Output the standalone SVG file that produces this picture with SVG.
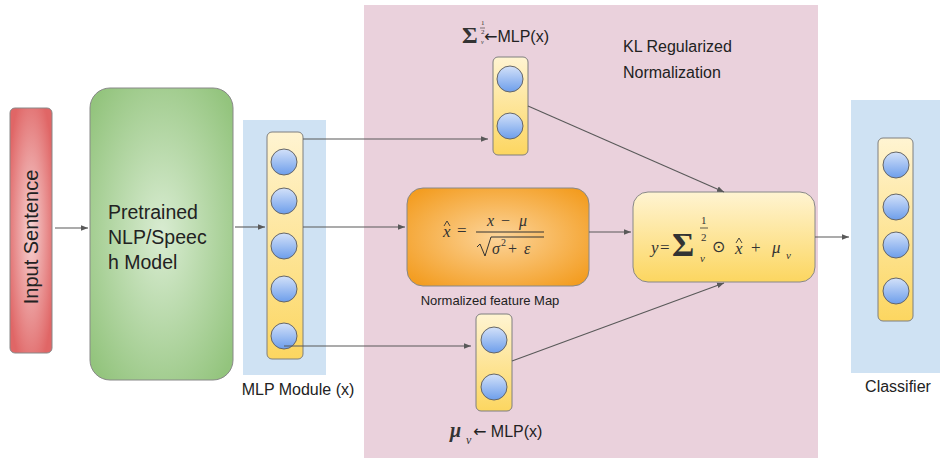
<svg xmlns="http://www.w3.org/2000/svg" width="940" height="458" viewBox="0 0 940 458">
<defs>
<radialGradient id="gRed" cx="50%" cy="50%" r="60%"><stop offset="0" stop-color="#f6d3d3"/><stop offset="1" stop-color="#e06666"/></radialGradient>
<radialGradient id="gGreen" cx="50%" cy="50%" r="65%"><stop offset="0" stop-color="#d9ecd2"/><stop offset="1" stop-color="#93c47d"/></radialGradient>
<radialGradient id="gOrange" cx="50%" cy="50%" r="65%"><stop offset="0" stop-color="#fcd49a"/><stop offset="1" stop-color="#f39c1f"/></radialGradient>
<linearGradient id="gYel" x1="0" y1="0" x2="0" y2="1"><stop offset="0" stop-color="#fff4d2"/><stop offset="1" stop-color="#fcd660"/></linearGradient>
<linearGradient id="gBlue" x1="0" y1="0" x2="0" y2="1"><stop offset="0" stop-color="#d3e1f9"/><stop offset="1" stop-color="#6d9eeb"/></linearGradient>
<marker id="ah" viewBox="0 0 10 10" refX="10" refY="5" markerWidth="7" markerHeight="7" orient="auto" markerUnits="userSpaceOnUse"><path d="M0,1 L10,5 L0,9 z" fill="#595959"/></marker>
<style>
.sans{font-family:"Liberation Sans",Arial,sans-serif;fill:#222}
.arr{font-family:"DejaVu Sans",sans-serif}
.math{font-family:"Liberation Serif","Times New Roman",serif;font-style:italic;fill:#333}
.mathn{font-family:"Liberation Serif","Times New Roman",serif;fill:#333}
.col{fill:url(#gYel);stroke:#7f7f7f;stroke-width:1}
.neu{fill:url(#gBlue);stroke:#666;stroke-width:1}
.bg{fill:#cfe2f3}
.hat{fill:none;stroke:#333;stroke-width:0.9}
.edge{stroke:#595959;stroke-width:1.1;fill:none;marker-end:url(#ah)}
</style>
</defs>
<rect width="940" height="458" fill="#fff"/>
<g id="kl-region">
<rect x="364" y="5" width="454" height="453" fill="#ead1dc"/>
<text class="sans" x="623" y="52" font-size="16">KL Regularized</text>
<text class="sans" x="623" y="78" font-size="16">Normalization</text>
</g>
<g id="input-sentence">
<rect x="10" y="108" width="42" height="245" rx="5" fill="url(#gRed)" stroke="#888" stroke-width="1"/>
<text class="sans" x="31" y="237" font-size="20" text-anchor="middle" dominant-baseline="central" transform="rotate(-90 31 237)">Input Sentence</text>
</g>
<g id="pretrained-model">
<rect x="90" y="88" width="143" height="292" rx="20" fill="url(#gGreen)" stroke="#888" stroke-width="1"/>
<text class="sans" font-size="19.5"><tspan x="108" y="219">Pretrained</tspan><tspan x="108" y="244">NLP/Speec</tspan><tspan x="108" y="269">h Model</tspan></text>
</g>
<g id="mlp-module">
<rect class="bg" x="243" y="120" width="83" height="255"/>
<rect class="col" x="267" y="132" width="36" height="227" rx="5"/>
<circle class="neu" cx="284" cy="162" r="13"/>
<circle class="neu" cx="284" cy="201" r="13"/>
<circle class="neu" cx="284" cy="246" r="13"/>
<circle class="neu" cx="284" cy="289" r="13"/>
<circle class="neu" cx="284" cy="336" r="13"/>
<text class="sans" x="298" y="395" font-size="16" text-anchor="middle">MLP Module (x)</text>
</g>
<g id="sigma-mlp">
<rect class="col" x="493" y="57" width="35" height="98" rx="5"/>
<circle class="neu" cx="510" cy="79" r="13"/>
<circle class="neu" cx="510" cy="126" r="13"/>
<text class="mathn" x="462" y="43" font-size="24" font-weight="bold">Σ</text>
<text class="mathn" x="481" y="25" font-size="7">1</text>
<line x1="480" y1="28" x2="485" y2="28" stroke="#333" stroke-width="0.6"/>
<text class="mathn" x="481" y="34" font-size="7">2</text>
<text class="math" x="481" y="44" font-size="6">v</text>
<text class="sans" x="484" y="42" font-size="16"><tspan class="arr">←</tspan>MLP(x)</text>
</g>
<g id="normalized-feature-map">
<rect x="407" y="188" width="182" height="98" rx="16" fill="url(#gOrange)" stroke="#888" stroke-width="1"/>
<path class="hat" d="M444,226 L447,221 L450,226"/>
<text class="math" x="443" y="237" font-size="17">x</text>
<text class="mathn" x="457" y="236" font-size="17">=</text>
<text class="math" x="487" y="226" font-size="16">x</text>
<text class="mathn" x="501" y="226" font-size="16">−</text>
<text class="math" x="519" y="226" font-size="16">μ</text>
<line x1="476" y1="232" x2="544" y2="232" stroke="#333" stroke-width="1"/>
<path d="M477,247 L480,244 L485,256 L491,237 L544,237" fill="none" stroke="#333" stroke-width="1"/>
<text class="math" x="492" y="254" font-size="16">σ</text>
<text class="mathn" x="501" y="246" font-size="10">2</text>
<text class="mathn" x="508" y="254" font-size="16">+</text>
<text class="math" x="524" y="254" font-size="16">ε</text>
<text class="sans" x="490" y="305" font-size="13" text-anchor="middle">Normalized feature Map</text>
</g>
<g id="output-formula">
<rect x="633" y="192" width="182" height="90" rx="15" fill="url(#gYel)" stroke="#888" stroke-width="1"/>
<text class="math" x="651" y="253" font-size="17">y</text>
<text class="mathn" x="660" y="253" font-size="17">=</text>
<text class="mathn" x="672" y="256" font-size="34" font-weight="bold">Σ</text>
<text class="mathn" x="701" y="224" font-size="11">1</text>
<line x1="700" y1="228" x2="708" y2="228" stroke="#333" stroke-width="0.8"/>
<text class="mathn" x="701" y="241" font-size="11">2</text>
<text class="math" x="700" y="262" font-size="11">v</text>
<text class="mathn" x="712" y="252" font-size="16">⊙</text>
<path class="hat" d="M736,243 L739,238 L742,243"/>
<text class="math" x="735" y="254" font-size="17">x</text>
<text class="mathn" x="751" y="253" font-size="17">+</text>
<text class="math" x="772" y="253" font-size="17">μ</text>
<text class="math" x="786" y="259" font-size="11">v</text>
</g>
<g id="mu-mlp">
<rect class="col" x="476" y="314" width="36" height="97" rx="5"/>
<circle class="neu" cx="494" cy="340" r="13"/>
<circle class="neu" cx="494" cy="387" r="13"/>
<text class="math" x="450" y="437" font-size="20" font-weight="bold">μ</text>
<text class="math" x="466" y="444" font-size="12">v</text>
<text class="sans" x="473" y="437" font-size="16"><tspan class="arr">←</tspan> MLP(x)</text>
</g>
<g id="classifier">
<rect class="bg" x="851" y="100" width="89" height="273"/>
<rect class="col" x="878" y="138" width="35" height="183" rx="5"/>
<circle class="neu" cx="896" cy="165" r="13"/>
<circle class="neu" cx="896" cy="207" r="13"/>
<circle class="neu" cx="896" cy="245" r="13"/>
<circle class="neu" cx="896" cy="291" r="13"/>
<text class="sans" x="898" y="392" font-size="16" text-anchor="middle">Classifier</text>
</g>
<g id="connectors">
<line class="edge" x1="55" y1="228" x2="88" y2="228"/>
<line class="edge" x1="235" y1="227" x2="265" y2="227"/>
<line class="edge" x1="303" y1="139" x2="488" y2="139"/>
<line class="edge" x1="303" y1="227" x2="405" y2="227"/>
<line class="edge" x1="284" y1="346" x2="471" y2="346"/>
<line class="edge" x1="589" y1="232" x2="631" y2="232"/>
<line class="edge" x1="528" y1="106" x2="724" y2="192"/>
<line class="edge" x1="512" y1="361" x2="724" y2="283"/>
<line class="edge" x1="815" y1="237" x2="849" y2="237"/>
</g>
</svg>
